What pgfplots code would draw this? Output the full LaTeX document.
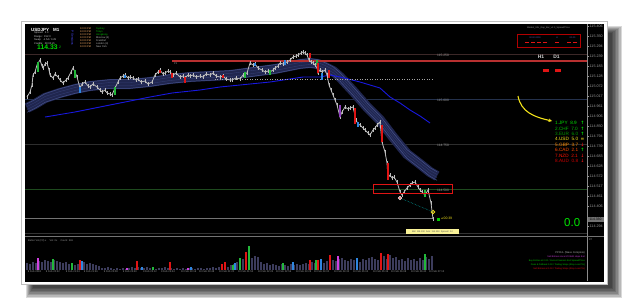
\documentclass[border=0pt]{standalone}
\usepackage{fontspec}
\setmainfont{Liberation Sans}
\newfontfamily\dv{DejaVu Sans}
\usepackage{pgfplots}
\usepackage{pgfplotstable}
\pgfplotsset{compat=1.18}
\usetikzlibrary{arrows.meta}

\definecolor{mtgray}{HTML}{9A9A9A}
\definecolor{bandc}{HTML}{20264F}
\definecolor{bande}{HTML}{46528C}
\definecolor{bandm}{HTML}{323C70}
\definecolor{volc}{HTML}{3C3C5C}
\definecolor{pricec}{HTML}{BCBCBC}
\definecolor{mared}{HTML}{E01414}
\definecolor{magrn}{HTML}{22B83A}
\definecolor{mablu}{HTML}{2E86E0}
\definecolor{mapur}{HTML}{9040C0}
\definecolor{mamag}{HTML}{D040E0}
\definecolor{maline}{HTML}{1818E0}
\definecolor{redline}{HTML}{B83030}
\definecolor{gA}{HTML}{3C2828}
\definecolor{gB}{HTML}{24314C}
\definecolor{gC}{HTML}{2E2E2E}
\definecolor{gD}{HTML}{1E4A1E}
\definecolor{yel}{HTML}{F2E21A}
\newcommand\tf[1]{\fontsize{#1}{#1}\selectfont}

\pgfplotstableread{
x p
27 115.0111
30 115.0389
32 115.0778
33 115.1333
35 115.15
37 115.1889
40 115.2167
42 115.1833
43 115.1722
45 115.1944
47 115.2
49 115.1611
50 115.1333
53 115.1167
55 115.1389
58 115.1222
60 115.1056
63 115.0889
66 115.1056
68 115.1167
71 115.15
73 115.1722
75 115.15
77 115.1222
80 115.0611
82 115.0833
85 115.0944
88 115.0722
90 115.0667
93 115.0833
97 115.0667
100 115.05
102 115.0389
105 115.05
107 115.0333
110 115.0278
112 115.0222
115 115.0611
118 115.0944
120 115.1167
123 115.1278
125 115.1333
128 115.1167
130 115.1222
133 115.1167
136 115.1056
138 115.1111
141 115.0944
145 115.1
148 115.0833
152 115.0944
155 115.1333
158 115.15
160 115.1611
163 115.1389
165 115.1444
168 115.1556
170 115.15
173 115.1333
176 115.1444
180 115.1222
183 115.1278
185 115.1167
188 115.1333
190 115.1278
193 115.1333
196 115.1222
200 115.1278
203 115.1222
206 115.1389
210 115.1333
213 115.1444
216 115.1278
220 115.1222
223 115.1278
226 115.1111
230 115.1056
232 115.1056
236 115.1167
240 115.1111
243 115.1333
247 115.1444
250 115.2
253 115.1889
255 115.1944
258 115.1722
262 115.1611
265 115.15
268 115.1556
270 115.15
273 115.1611
275 115.1722
278 115.1833
280 115.2
283 115.1944
287 115.2056
290 115.2167
293 115.2333
296 115.2389
298 115.2444
301 115.2556
303 115.2611
305 115.2556
307 115.2444
309 115.2167
311 115.2056
313 115.2
315 115.1889
317 115.1722
318 115.1444
320 115.1611
322 115.15
325 115.1611
327 115.1333
329 115.0778
331 115.05
333 115.0222
335 114.9944
337 114.9667
340 114.9
342 114.9278
345 114.9556
348 114.9444
350 114.95
353 114.9556
356 114.8833
358 114.8611
360 114.8556
363 114.8389
365 114.8278
368 114.8111
370 114.8
373 114.8278
375 114.8389
377 114.8556
380 114.8722
382 114.7611
385 114.7056
387 114.6444
388 114.5611
390 114.5778
392 114.5611
394 114.5667
397 114.5389
400 114.4833
402 114.4667
404 114.4833
407 114.5056
410 114.5222
412 114.5333
415 114.5389
418 114.5111
420 114.4944
422 114.4833
425 114.4667
428 114.4944
431 114.4222
433 114.3333
}\price

\pgfplotstableread{
x p
27 114.95
35 114.9722
45 115.0056
60 115.0333
75 115.0556
90 115.0722
110 115.0833
130 115.0833
150 115.0944
170 115.1111
190 115.1222
210 115.1278
230 115.1333
245 115.1444
260 115.1556
275 115.1667
290 115.1833
300 115.1944
310 115.2
318 115.1944
325 115.1778
333 115.1556
340 115.1222
353 115.0444
367 114.9556
380 114.8833
393 114.7889
407 114.6944
420 114.6389
430 114.5944
437 114.5722
}\band

\pgfplotstableread{
x p
45 114.90
75 114.9278
100 114.9556
125 114.9833
150 115.0111
172 115.0333
200 115.05
220 115.0667
250 115.0833
270 115.0944
303 115.1222
320 115.1222
330 115.1333
340 115.1222
360 115.0944
380 115.0611
390 115.0111
400 114.9778
410 114.9389
420 114.9056
430 114.8667
}\ma

\pgfplotstableread{
x v
27 7
30 6
33 8
36 7
39 9
42 8
45 10
48 9
51 8
54 10
57 9
60 8
63 7
66 8
69 6
72 7
75 5
78 6
81 7
84 8
87 6
90 7
93 6
96 5
99 4
102 2
105 2
108 3
111 2
114 1
117 2
120 1
123 2
126 1
129 2
132 3
135 2
138 3
141 2
144 2
147 3
150 2
153 2
156 1
159 2
162 2
165 3
168 2
171 2
174 1
177 2
180 1
183 2
186 1
189 2
192 2
195 1
198 2
201 2
204 1
207 2
210 2
213 3
216 2
219 3
222 3
225 4
228 3
231 5
234 6
237 8
240 10
243 11
246 9
249 15
252 12
255 14
258 13
261 8
264 6
267 7
270 5
273 6
276 5
279 4
282 6
285 5
288 4
291 6
294 5
297 6
300 5
303 6
306 7
309 6
312 8
315 7
318 8
321 9
324 7
327 9
330 8
333 10
336 9
339 11
342 12
345 10
348 9
351 11
354 10
357 9
360 8
363 11
366 10
369 12
372 13
375 11
378 10
381 12
384 14
387 11
390 15
393 12
396 13
399 10
402 11
405 9
408 12
411 10
414 11
417 9
420 12
423 10
426 13
429 11
432 14
}\vol

\begin{document}
\begin{tikzpicture}
% frame, shadow, panel (pixel coordinates, y downward)
\begin{scope}[x=1bp,y=1bp]
\fill[white] (0,0) rectangle (625,302);
\end{scope}
\begin{scope}[x=1bp,y=1bp,shift={(0,302)},yscale=-1]
\foreach \k in {0,...,7}{
  \fill[black,opacity=0.15] (26+\k,26+\k) rectangle (622-1.5*\k,298-1.5*\k);
}
\fill[white] (21,21) rectangle (607,284.5);
\draw[black!25,line width=0.3] (21,21) rectangle (607,284.5);
\fill[black] (24.5,24) rectangle (604,281.5);
\end{scope}

% ---------- main price axis ----------
\begin{scope}[shift={(25bp,68bp)}]
\begin{axis}[at={(0,0)},anchor=south west,width=562bp,height=208bp,scale only axis,
  xmin=25,xmax=587,ymin=114.25,ymax=115.4056,
  axis line style={draw=none}, xtick=\empty, ytick pos=right, yticklabel pos=right,
  scaled y ticks=false,
  ytick={115.4056,115.35,115.2944,115.2389,115.1833,115.1278,115.0722,115.0167,114.9611,114.9056,114.85,114.7944,114.7389,114.6833,114.6278,114.5722,114.5167,114.4611,114.4056,114.2944},
  yticklabel={\pgfmathprintnumber[fixed,fixed zerofill,precision=3,assume math mode=true]{\tick}},
  yticklabel style={font=\tf{3.7},text=mtgray,inner sep=1pt},
  tick align=outside, major tick length=1.5bp, tick style={draw=mtgray,line width=0.3pt},
  unbounded coords=jump]
% level lines
\addplot[gA,line width=0.6bp] coordinates {(25,115.25) (587,115.25)};
\addplot[gB,line width=0.6bp] coordinates {(25,115.0) (587,115.0)};
\addplot[gC,line width=0.6bp] coordinates {(25,114.75) (587,114.75)};
\addplot[gD,line width=0.6bp] coordinates {(25,114.5) (587,114.5)};
\addplot[black!55,line width=0.6bp] coordinates {(25,114.3389) (434,114.3389)};
% ribbon moving average
\addplot[bandc,line width=10bp,line join=round] table {\band};
\addplot[bande,line width=0.5bp,yshift=4.3bp] table {\band};
\addplot[bande,line width=0.5bp,yshift=-4.3bp] table {\band};
\addplot[bandm,line width=0.4bp,yshift=1.5bp] table {\band};
\addplot[bandm,line width=0.4bp,yshift=-1.5bp] table {\band};
% slow moving average
\addplot[maline,line width=0.9bp] table {\ma};
% pivot lines
\addplot[black!35,dotted,line width=0.5bp] coordinates {(215,115.1111) (434,115.1111)};
\addplot[redline,line width=1.3bp] coordinates {(172,115.2111) (587,115.2111)};
% price
\addplot[pricec,line width=0.8bp,
  error bars/.cd, y dir=both, y fixed=0.013, error mark=none,
  error bar style={pricec,line width=0.7bp}] table {\price};
% coloured candles
\addplot[magrn,line width=1.4bp] coordinates {(38,115.2056)(38,115.15)(38,nan) (75,115.1611)(75,115.1167)(75,nan) (115,115.0667)(115,115.0222)(115,nan) (245,115.15)(245,115.1167)(245,nan) (270,115.1611)(270,115.1333)(270,nan) (317,115.2167)(317,115.1889)(317,nan) (425,114.4944)(425,114.4556)};
\addplot[mablu,line width=1.4bp] coordinates {(80,115.0667)(80,115.0333)(80,nan) (125,115.1333)(125,115.1167)(125,nan) (255,115.2)(255,115.1833)(255,nan) (285,115.2167)(285,115.1889)(285,nan) (322,115.1444)(322,115.1056)(322,nan) (358,114.8722)(358,114.8444)};
\addplot[mared,line width=1.4bp] coordinates {(160,115.1611)(160,115.1444)(160,nan) (172,115.1444)(172,115.1167)(172,nan) (185,115.1222)(185,115.0889)(185,nan) (223,115.1333)(223,115.1167)(223,nan) (310,115.2556)(310,115.2278)(310,nan) (318,115.2)(318,115.1444)(318,nan) (329,115.1611)(329,115.1167)(329,nan) (355,114.95)(355,114.8611)(355,nan) (382,114.8556)(382,114.7611)(382,nan) (388,114.6444)(388,114.55)};
\addplot[mapur,line width=1.4bp] coordinates {(340,114.9667)(340,114.9)};
% drawn objects
\addplot[mared,line width=0.9bp] coordinates {(373,114.5278)(452,114.5278)(452,114.4778)(373,114.4778)(373,114.5278)};
\addplot[teal!60!cyan,densely dotted,line width=0.5bp] coordinates {(400,114.45)(433,114.3722)};
\addplot[only marks,mark=*,mark size=1.7bp,mark options={draw=white,fill=mared,line width=0.7bp}] coordinates {(400,114.45)};
\addplot[only marks,mark=o,mark size=1.7bp,mark options={draw=yel,line width=0.8bp}] coordinates {(433,114.3722)};
\addplot[only marks,mark=square*,mark size=0.9bp,mark options={draw=green!80!black,fill=green!80!black}] coordinates {(438,114.3333)};
\end{axis}
\end{scope}

% ---------- volume axis ----------
\begin{scope}[shift={(25bp,32bp)}]
\begin{axis}[at={(0,0)},anchor=south west,width=562bp,height=32bp,scale only axis,
  xmin=25,xmax=587,ymin=0,ymax=32,
  axis line style={draw=none}, ytick=\empty,
  xtick={27,45,65,83,103,122,142,160,180,198,218,237,257,275,295,313,333,352,372,390,410,428},
  xticklabels={9 Feb 2018,9 Feb 20:32,9 Feb 21:04,9 Feb 21:36,9 Feb 22:08,9 Feb 22:40,9 Feb 23:12,9 Feb 23:44,10 Feb 00:16,10 Feb 00:48,10 Feb 01:20,10 Feb 01:52,10 Feb 02:24,10 Feb 02:56,10 Feb 03:28,10 Feb 04:00,10 Feb 04:32,10 Feb 05:04,10 Feb 05:36,10 Feb 06:08,10 Feb 06:40,10 Feb 07:12},
  xtick style={draw=none},
  xticklabel style={font=\tf{2.6},text=mtgray,anchor=north west,inner sep=0.8pt}]
\addplot[ycomb,volc,line width=1.5bp,mark=none] table {\vol};
\addplot[ycomb,mared,line width=1.5bp,mark=none] coordinates {(80,10)(137,9)(170,8)(222,6)(225,8)(246,18)(310,10)(318,10)(330,15)(381,17)(388,16)};
\addplot[ycomb,magrn,line width=1.5bp,mark=none] coordinates {(53,11)(72,7)(153,3)(233,5)(240,12)(249,24)(283,7)(316,10)(425,16)};
\addplot[ycomb,mablu,line width=1.5bp,mark=none] coordinates {(82,9)(142,3)(191,3)(235,7)(293,8)(321,11)(357,12)};
\addplot[ycomb,mamag,line width=1.5bp,mark=none] coordinates {(38,12)(127,2)(188,2)(338,14)};
\end{axis}
\end{scope}

% ---------- screen overlay (pixel coordinates) ----------
\begin{scope}[x=1bp,y=1bp,shift={(0,302)},yscale=-1]
\draw[black!45,line width=0.4] (587,24) -- (587,281);
\draw[black!80!white,line width=0.5] (25,233) -- (587,233);
\draw[black!55,line width=0.6] (25,236.5) -- (604,236.5);
% inner price labels
\foreach \yy/\tt in {55/115.250,100/115.000,145.5/114.750,190.5/114.500}{
  \node[anchor=west,text=mtgray,font=\tf{3.3},inner sep=0] at (437,\yy) {\tt};}
\node[anchor=west,text=mtgray,font=\tf{2.6},inner sep=0] at (174,63.5) {P1};
% current price tag
\fill[black!55] (587.5,217) rectangle (603.5,222);
\node[text=black,font=\tf{3.4},inner sep=0] at (595.5,219.6) {114.330};
\node[anchor=west,text=yel,font=\tf{3.4},inner sep=0] at (441,218.5) {{\dv\tf{3}◂} 00:39};
% yellow info label
\node[fill=yel!45!white,text=black!70,font=\tf{2.3},inner sep=0,minimum width=53bp,minimum height=5bp] at (432.5,231.5) {Bid: 114.330 \ Ask: 114.350 \ Spread: 2.0};
% top-left info block
\node[anchor=west,text=white,font=\bfseries\tf{4.5},inner sep=0] at (31,29.5) {USDJPY};
\node[anchor=west,text=white,font=\bfseries\tf{4.5},inner sep=0] at (53,29.5) {M1};
\node[anchor=west,text=black!20,font=\tf{2.6},inner sep=0] at (34,33) {Spread: \ 2.0};
\node[anchor=west,text=black!20,font=\tf{2.6},inner sep=0] at (34,36.5) {Range: \ 152.0};
\node[anchor=west,text=black!20,font=\tf{2.6},inner sep=0] at (34,40.2) {Swap: \ -1.54 / 0.29};
\node[anchor=west,text=black!20,font=\tf{2.6},inner sep=0] at (34,43.6) {Candle: \ 00:00:21};
\node[anchor=west,text=green!85!black,font=\bfseries\tf{6.8},inner sep=0] at (37,47) {114.33};
\node[anchor=west,text=green!85!black,font=\tf{3.5},inner sep=0] at (59,47.5) {2};
\node[rotate=-90,text=blue!70!white,font=\tf{3},inner sep=0] at (72.5,38) {P Sessions};
\foreach \yy/\nn/\cc in {28.5/Sydney/green!75!black,31.5/Tokyo/green!75!black,34.5/Hongkong/green!75!black,37.5/Moscow (2)/black!25,40.5/Frankfurt/black!25,43.5/London (3)/black!25,46.5/New York/black!25}{
  \node[anchor=west,text=orange!60!white,font=\tf{2.5},inner sep=0] at (80,\yy) {10:00 PM};
  \node[anchor=west,text=\cc,font=\tf{2.5},inner sep=0] at (96,\yy) {\nn};}
% top-right box
\node[text=mtgray,font=\tf{2.3},inner sep=0] at (548.5,28) {Market\_Info\_Gap\_Bar\_v2.0\_Spread/Price};
\draw[red!70!black,line width=0.8] (517,34.5) rectangle (580,47);
\node[text=blue!30!gray,font=\tf{2.3},inner sep=0] at (535,37.5) {00.00.0000};
\node[text=blue!30!gray,font=\tf{2.3},inner sep=0] at (557,37.5) {H};
\node[text=blue!30!gray,font=\tf{2.3},inner sep=0] at (572.5,37.5) {00.00};
\foreach \xa in {525,531,537,543,555,567,573}{\fill[mared] (\xa,41.8) rectangle (\xa+4,43.1);}
% H1 D1
\node[text=black!18,font=\bfseries\tf{5},inner sep=0] at (541,57) {H1};
\node[text=black!18,font=\bfseries\tf{5},inner sep=0] at (556.5,57) {D1};
\fill[mared] (543,68.5) rectangle (549,72);
\fill[mared] (555,68.5) rectangle (561,72);
% yellow arrow
\draw[yel,line width=1.1,-{Stealth[length=3.5,width=3.5]}] (518,96) .. controls (521,112) and (534,117) .. (552,121);
% currency strength
\foreach \yy/\tx/\cc/\ar/\ac in {123/1.JPY \ 8.9/green!90!black/↑/green!90!black,128.4/2.CHF \ 7.0/green!75!black/↑/green!90!black,133.8/3.EUR \ 6.0/green!60!black/↑/green!90!black,139.2/4.USD \ 5.0/yel/=/yel,144.6/5.GBP \ 3.7/orange!90!yellow/↓/mared,150/6.CAD \ 2.1/orange!60!red/↑/green!90!black,155.4/7.NZD \ 2.1/red!85!orange/↓/mared,160.8/8.AUD \ 0.8/red!80!black/↓/mared}{
  \node[anchor=west,text=\cc,font=\tf{4.7},inner sep=0] at (555,\yy) {\tx};
  \node[text=\ac,font=\dv\bfseries\tf{4.5},inner sep=0] at (582.5,\yy) {\ar};}
\node[anchor=west,text=green!90!black,font=\tf{11.5},inner sep=0] at (564,223) {0.0};
% volume panel texts
\node[anchor=west,text=mtgray,font=\tf{2.5},inner sep=0] at (28,240.5) {Better Vol (FX) x \quad Vol: 0x \quad Count: 336};
\node[anchor=west,text=mtgray,font=\tf{2.6},inner sep=0] at (589,240) {87};
\node[anchor=east,text=black!30,font=\tf{2.6},inner sep=0] at (585,253) {PPCHL (Wave Complete)};
\node[anchor=east,text=mamag,font=\tf{2.3},inner sep=0] at (585,257) {Sell Entries since 0/0 Both stops Exit};
\node[anchor=east,text=green!80!black,font=\tf{2.3},inner sep=0] at (585,261) {Buy Entries at 0.00 / Current Session Exit Spread/Price};
\node[anchor=east,text=green!80!black,font=\tf{2.3},inner sep=0] at (585,265) {Peak \& Pullback 0.00 / Trailing Stops (Stop Loss Pts)};
\node[anchor=east,text=mared,font=\tf{2.3},inner sep=0] at (585,269) {Sell Entries at 0.00 / Trailing Stops (Stop Loss Pts)};
\end{scope}
\end{tikzpicture}
\end{document}
